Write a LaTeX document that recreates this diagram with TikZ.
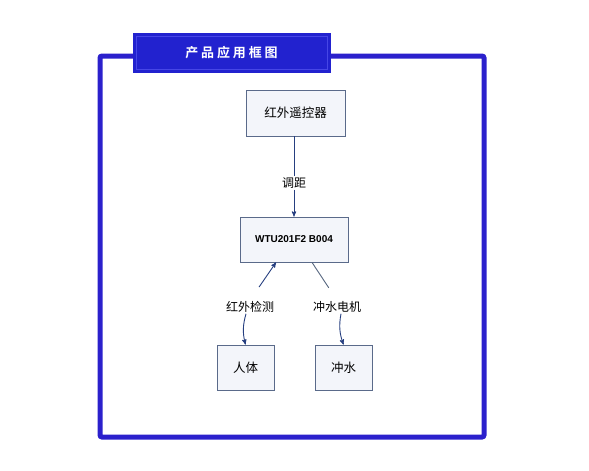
\documentclass[tikz,border=0pt]{standalone}
\usepackage{fontspec}
\setmainfont{Noto Sans CJK SC}
\newfontfamily\titlefont[LetterSpace=22]{Noto Sans CJK SC Bold}
\newfontfamily\chipfont{Liberation Sans}
\usepackage{tikz}
\usetikzlibrary{arrows,positioning}

\definecolor{FrameBlue}{HTML}{2B20CC}
\definecolor{TitleBlue}{HTML}{2222CF}
\definecolor{TitleEdge}{HTML}{4646E6}
\definecolor{BoxFill}{HTML}{F3F5FA}
\definecolor{BoxEdge}{HTML}{5A6A8A}
\definecolor{LinkBlue}{HTML}{263F80}
\definecolor{LinkGray}{HTML}{56667F}

\begin{document}
\begin{tikzpicture}[x=1pt,y=-1pt,>=stealth',
            main node/.style={rectangle,fill=BoxFill,draw=BoxEdge,line width=0.8pt,
            font=\fontsize{12.5}{14}\selectfont,minimum height=45pt,inner sep=0pt},
            link label/.style={font=\fontsize{12}{14}\selectfont,inner sep=1pt},
            link/.style={draw=LinkBlue,line width=0.9pt}]
    \useasboundingbox (0,0) rectangle (589,471);

    % outer frame and title
    \draw[FrameBlue,line width=5pt,rounded corners=2pt] (100,56) rectangle (484,437);
    \node[fill=TitleBlue,draw=TitleBlue,minimum width=197pt,minimum height=39pt,inner sep=0pt,
          text=white,font=\titlefont\fontsize{13}{15}\selectfont] (Title) at (231.5,52.5) {产品应用框图};
    \draw[TitleEdge,line width=0.6pt] ([shift={(3,3)}]Title.north west) rectangle ([shift={(-3,-3)}]Title.south east);

    % boxes
    \node[main node,minimum width=99pt,minimum height=46pt] (Remote) at (295.5,113) {红外遥控器};
    \node[main node,minimum width=108pt,font=\chipfont\bfseries\fontsize{10}{12}\selectfont] (Chip) at (294,239.5) {WTU201F2 B004};
    \node[main node,minimum width=57pt] (Human) at (245.5,367.5) {人体};
    \node[main node,minimum width=57pt] (Flush) at (343.5,367.5) {冲水};

    % link labels
    \node[link label] (Adjust) at (294,183) {调距};
    \node[link label] (Detect) at (250,307) {红外检测};
    \node[link label] (Motor) at (337,307) {冲水电机};

    \draw[link] (Remote.south -| Adjust) -- (Adjust);
    \draw[link,->] (Adjust) -- (Chip);
    \draw[link,->,shorten <=16pt] (Detect.north) -- ([xshift=-18pt]Chip.south);
    \draw[draw=LinkGray,line width=0.9pt,shorten <=15pt] (Motor.north) -- ([xshift=18pt]Chip.south);
    \draw[link,->] ([xshift=-4pt]Detect.south) to[bend right=15] (Human.north);
    \draw[link,->] ([xshift=4pt]Motor.south) to[bend right=15] (Flush.north);
\end{tikzpicture}
\end{document}
